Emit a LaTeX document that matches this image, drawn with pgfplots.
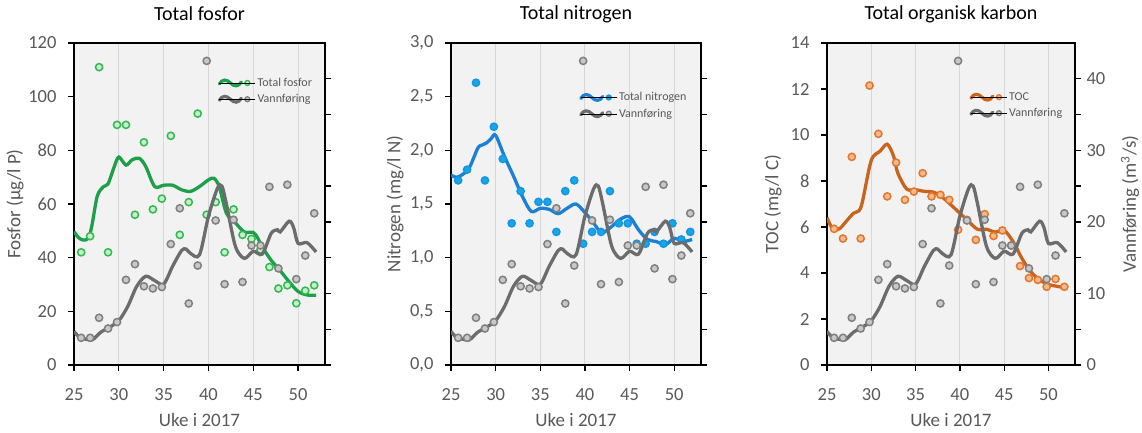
\documentclass[border=0pt]{standalone}
\usepackage{fontspec}
\setmainfont{Carlito}
\usepackage{pgfplots}
\usepackage{pgfplotstable}
\pgfplotsset{compat=1.18}

\definecolor{bgcol}{RGB}{242,242,242}
\definecolor{gridcol}{RGB}{215,215,215}
\definecolor{labcol}{RGB}{89,89,89}
\definecolor{greenLine}{RGB}{30,160,75}
\definecolor{greenEdge}{RGB}{50,185,80}
\definecolor{greenFill}{RGB}{200,238,205}
\definecolor{grayLine}{RGB}{108,108,108}
\definecolor{grayEdge}{RGB}{128,128,128}
\definecolor{grayFill}{RGB}{200,200,200}
\definecolor{blueLine}{RGB}{28,128,212}
\definecolor{blueEdge}{RGB}{20,150,225}
\definecolor{blueFill}{RGB}{25,165,235}
\definecolor{orangeLine}{RGB}{200,100,30}
\definecolor{orangeEdge}{RGB}{225,120,45}
\definecolor{orangeFill}{RGB}{245,185,140}

% Vannføring (right axis, m3/s)
\pgfplotstableread{
x y
25.8 3.8
26.8 3.8
27.8 6.6
28.8 5.1
29.8 6.0
30.8 11.9
31.8 14.1
32.8 11.0
33.8 10.7
34.8 10.9
35.8 16.9
36.8 21.9
37.8 8.6
38.8 13.9
39.8 42.5
40.8 20.2
41.8 11.3
42.8 20.3
43.8 11.6
44.8 16.7
45.8 16.7
46.8 24.9
47.8 13.5
48.8 25.2
49.8 12.0
50.8 15.3
51.8 21.2
}\vannpts
\pgfplotstableread{
x y
25 4.7
25.5 4.0
26 3.7
27 3.5
27.5 4.0
28 4.6
29 5.3
30 6.2
31 8.2
32 11.0
33 12.4
34 11.8
35 11.3
36 13.8
37 16.0
37.5 16.2
38 15.6
39 15.4
40 20.8
41 24.7
41.5 25.0
42 22.5
43 16.6
44 14.9
45 15.9
46 15.5
47 18.4
47.7 18.9
48 18.6
49 20.1
49.5 19.2
50 17.0
51 17.1
52 15.8
}\vannline
% Total fosfor
\pgfplotstableread{
x y
25.8 42
26.8 48
27.8 111
28.8 42
29.8 89.5
30.8 89.5
31.8 56
32.8 83
33.8 58
34.8 62
35.8 85.4
36.8 48.5
37.8 60.7
38.8 93.7
39.8 56
40.8 60.7
41.8 42
42.8 58
43.8 48.5
44.8 47
45.8 43
46.8 36.5
47.8 28.5
48.8 29.7
49.8 23
50.8 27.7
51.8 29.7
}\tppts
\pgfplotstableread{
x y
25 49.7
25.5 47.5
26 46.6
26.6 47.2
27 52
27.6 63
28.3 66.5
28.8 67.5
29.5 74
30 77.5
30.8 74.5
31.5 76.5
32.3 77
33 74
34 66.5
35 67
36 67
37 65.3
38 64.7
39 66.5
40 69
40.6 69.6
41.2 66.5
42 56.6
43 53
44 49.6
45 49.4
45.5 47.3
46 44
47 39
48 35.2
49 31
50 27.4
51 26.1
52 26
}\tpline
% Total nitrogen
\pgfplotstableread{
x y
25.8 1.72
26.8 1.82
27.8 2.63
28.8 1.72
29.8 2.22
30.8 1.92
31.8 1.32
32.8 1.62
33.8 1.32
34.8 1.52
35.8 1.52
36.8 1.24
37.8 1.62
38.8 1.72
39.8 1.13
40.8 1.24
41.8 1.24
42.8 1.62
43.8 1.32
44.8 1.32
45.8 1.13
46.8 1.13
47.8 1.24
48.8 1.13
49.8 1.32
50.8 1.17
51.8 1.24
}\tnpts
\pgfplotstableread{
x y
25 1.77
25.5 1.75
26 1.76
27 1.83
28 2.02
28.5 2.05
29 2.07
29.5 2.11
30 2.14
31 1.94
32 1.76
33 1.57
34 1.43
35 1.46
36 1.45
37 1.41
38 1.46
39 1.50
40 1.42
41 1.32
41.5 1.26
42 1.23
43 1.29
44 1.36
45 1.38
46 1.26
47 1.17
48 1.15
49 1.12
50 1.18
51 1.15
52 1.17
}\tnline
% TOC
\pgfplotstableread{
x y
25.8 5.92
26.8 5.5
27.8 9.05
28.8 5.5
29.8 12.15
30.8 10.05
31.8 7.33
32.8 8.8
33.8 7.18
34.8 7.54
35.8 8.34
36.8 7.33
37.8 7.4
38.8 7.18
39.8 5.88
40.8 6.31
41.8 5.44
42.8 6.56
43.8 5.61
44.8 5.85
45.8 5.2
46.8 4.3
47.8 3.78
48.8 3.7
49.8 3.4
50.8 3.74
51.8 3.4
}\tocpts
\pgfplotstableread{
x y
25 6.4
25.5 6.0
26 5.88
26.5 5.95
27 6.17
28 6.6
28.6 6.7
29 7.1
30 8.9
31 9.3
31.8 9.6
32.5 9.1
33 8.34
34 7.65
35 7.62
36 7.55
37 7.52
38 7.3
39 6.96
40 6.6
41 6.24
42 5.9
43 5.9
44 5.78
45 5.85
46 5.37
47 4.64
48 4.06
49 3.7
50 3.5
51 3.42
52 3.34
}\tocline

\newcommand{\wave}[3]{%
  \draw[#1, line width=3.2pt, line cap=round] (0pt,-1pt) .. controls (3pt,4pt) and (7pt,4pt) .. (11pt,0pt) .. controls (15pt,-4pt) and (19pt,-4pt) .. (22pt,1pt);
  \draw[draw=#2, fill=#3, line width=1.3pt] (28pt,0pt) circle (2.5pt);
  \path (0pt,0pt) -- (36pt,0pt);}

\newcommand{\labfont}{\fontsize{19}{21}\selectfont}
\pgfplotsset{
  base/.style={
    scale only axis, height=322pt,
    xmin=25, xmax=53,
    xtick={25,30,...,50},
    tick align=outside,
    major tick length=6pt, minor tick length=6pt,
    axis line style={black, line width=1.4pt},
    every tick/.style={black, line width=1.3pt},
    ticklabel style={font=\fontsize{18.5}{20}\selectfont, text=labcol},
    /pgf/number format/assume math mode=true,
  },
  leftax/.style={
    base,
    axis background/.style={fill=bgcol},
    xtick pos=bottom, ytick pos=left,
    xticklabel style={yshift=-14pt},
    yticklabel style={xshift=-8pt},
    xmajorgrids, grid style={gridcol, line width=1pt},
    xlabel={Uke i 2017},
    every axis x label/.style={at={(axis description cs:0.5,-0.171)}, anchor=center, font=\labfont, text=labcol},
    title style={at={(axis description cs:0.5,1.072)}, anchor=center, font=\fontsize{20}{22}\selectfont, text=black},
  },
  rightax/.style={
    base,
    axis x line=none, axis y line*=right,
    ymin=0, ymax=45,
    ytick={0,10,...,40}, minor ytick={5,15,25,35},
    yticklabel style={xshift=2pt},
    legend style={draw=none, fill=none, font=\fontsize{12}{14}\selectfont, text=labcol, row sep=2.5pt, inner sep=0pt, anchor=north west},
    legend cell align=left,
  },
  ylab/.style={every axis y label/.style={at={(axis description cs:#1,0.5)}, rotate=90, anchor=center, font=\labfont, text=labcol}},
  pts/.style={only marks, mark=*, mark size=3.6pt, forget plot},
  sline/.style={smooth, no marks, line width=3.3pt, forget plot},
}

\begin{document}
\begin{tikzpicture}
\path[use as bounding box] (0,0) rectangle (1142pt,432pt);

% ---------- Panel 1 ----------
\begin{axis}[leftax, at={(74pt,67pt)}, anchor=south west, width=251pt,
  ymin=0, ymax=120, ytick={0,20,...,120},
  title={Total fosfor},
  ylabel={Fosfor (µg/l P)}, ylab=-0.235]
\addplot[sline, greenLine] table {\tpline};
\addplot[pts, mark options={draw=greenEdge, fill=greenFill, line width=1.5pt}] table {\tppts};
\end{axis}
\begin{axis}[rightax, at={(74pt,67pt)}, anchor=south west, width=251pt, yticklabels={{},{},{},{},{}},
  legend style={at={(rel axis cs:0.572,0.898)}}]
\addplot[sline, grayLine] table {\vannline};
\addplot[pts, mark options={draw=grayEdge, fill=grayFill, line width=1.5pt}] table {\vannpts};
\addlegendimage{legend image code/.code={\wave{greenLine}{greenEdge}{greenFill}}}
\addlegendentry{Total fosfor}
\addlegendimage{legend image code/.code={\wave{grayLine}{grayEdge}{grayFill}}}
\addlegendentry{Vannføring}
\end{axis}

% ---------- Panel 2 ----------
\begin{axis}[leftax, at={(451pt,67pt)}, anchor=south west, width=250pt,
  ymin=0, ymax=3, ytick={0,0.5,...,3.0},
  yticklabel style={/pgf/number format/.cd, use comma, fixed, fixed zerofill, precision=1},
  title={Total nitrogen},
  ylabel={Nitrogen (mg/l N)}, ylab=-0.224]
\addplot[sline, blueLine] table {\tnline};
\addplot[pts, mark options={draw=blueEdge, fill=blueFill, line width=1.5pt}] table {\tnpts};
\end{axis}
\begin{axis}[rightax, at={(451pt,67pt)}, anchor=south west, width=250pt, yticklabels={{},{},{},{},{}},
  legend style={at={(rel axis cs:0.512,0.853)}}]
\addplot[sline, grayLine] table {\vannline};
\addplot[pts, mark options={draw=grayEdge, fill=grayFill, line width=1.5pt}] table {\vannpts};
\addlegendimage{legend image code/.code={\wave{blueLine}{blueEdge}{blueFill}}}
\addlegendentry{Total nitrogen}
\addlegendimage{legend image code/.code={\wave{grayLine}{grayEdge}{grayFill}}}
\addlegendentry{Vannføring}
\end{axis}

% ---------- Panel 3 ----------
\begin{axis}[leftax, at={(827pt,67pt)}, anchor=south west, width=248pt,
  ymin=0, ymax=14, ytick={0,2,...,14},
  title={Total organisk karbon},
  ylabel={TOC (mg/l C)}, ylab=-0.218]
\addplot[sline, orangeLine] table {\tocline};
\addplot[pts, mark options={draw=orangeEdge, fill=orangeFill, line width=1.5pt}] table {\tocpts};
\end{axis}
\begin{axis}[rightax, at={(827pt,67pt)}, anchor=south west, width=248pt,
  ylabel={Vannføring (m\textsuperscript{3}/s)}, ylab=1.222,
  legend style={at={(rel axis cs:0.573,0.853)}}]
\addplot[sline, grayLine] table {\vannline};
\addplot[pts, mark options={draw=grayEdge, fill=grayFill, line width=1.5pt}] table {\vannpts};
\addlegendimage{legend image code/.code={\wave{orangeLine}{orangeEdge}{orangeFill}}}
\addlegendentry{TOC}
\addlegendimage{legend image code/.code={\wave{grayLine}{grayEdge}{grayFill}}}
\addlegendentry{Vannføring}
\end{axis}
\end{tikzpicture}
\end{document}
